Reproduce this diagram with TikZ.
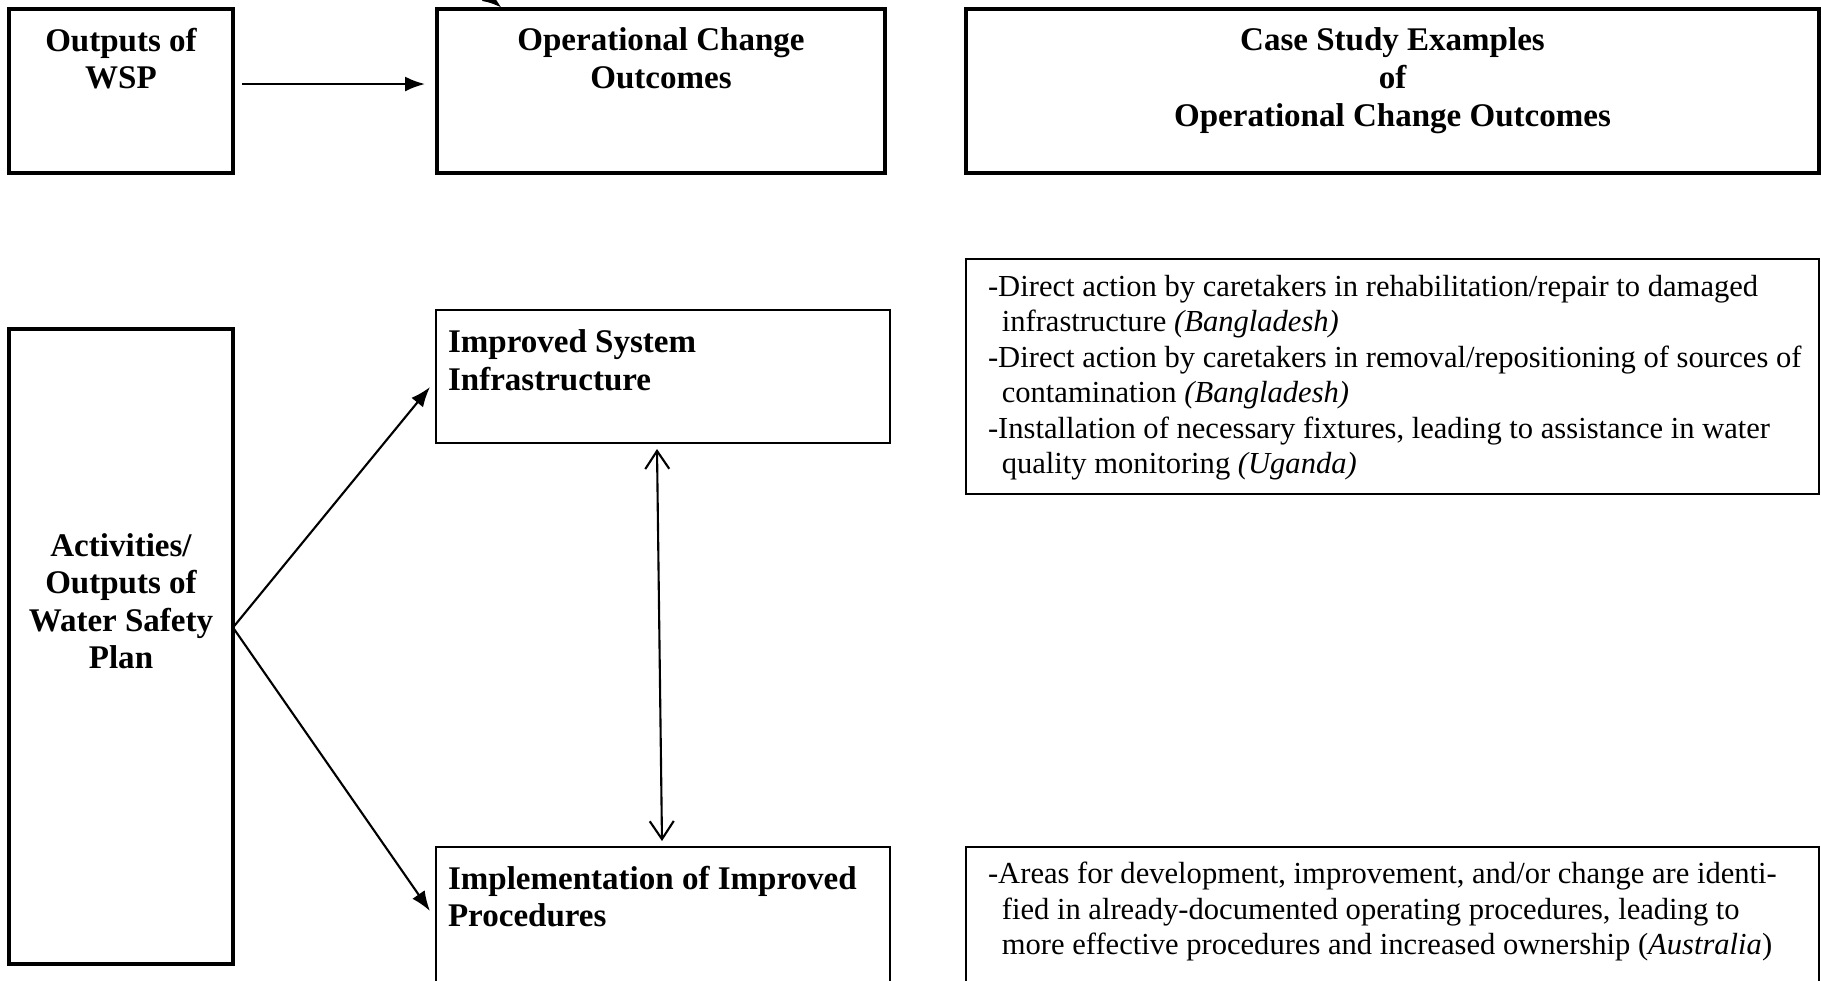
\documentclass[tikz,border=0pt]{standalone}
\usepackage{fontspec}
\setmainfont{Liberation Serif}
\usetikzlibrary{arrows.meta,positioning}

\begin{document}
\begin{tikzpicture}[->,>={Latex[length=0.2cm,width=0.15cm]},line width=0.6pt,
	  box/.style={draw,inner sep=0pt,outer sep=0pt},
	  heavy box/.style={box,line width=1.1pt},
	  both ways/.style={<->,>={Straight Barb[length=0.18cm,width=0.24cm]}},
	  head/.style={inner sep=0pt,align=center,font=\fontsize{9.4}{10.7}\selectfont\bfseries},
	  note/.style={inner sep=0pt,align=left,font=\fontsize{8.7}{10.1}\selectfont}]

		\useasboundingbox (0,0) rectangle (18.21,-9.80);

		\node[heavy box,minimum width=2.24cm,minimum height=1.64cm] (wsp) at (1.21,-0.91) {};
		\node[heavy box,minimum width=4.48cm,minimum height=1.64cm] (oco) at (6.61,-0.91) {};
		\node[heavy box,minimum width=8.53cm,minimum height=1.64cm] (cse) at (13.925,-0.91) {};
		\node[heavy box,minimum width=2.24cm,minimum height=6.35cm] (act) at (1.21,-6.465) {};
		\node[box,minimum width=4.54cm,minimum height=1.33cm] (isi) at (6.63,-3.765) {};
		\node[box,minimum width=4.54cm,minimum height=1.73cm] (iip) at (6.63,-9.335) {};
		\node[box,minimum width=8.53cm,minimum height=2.35cm] (ex1) at (13.925,-3.765) {};
		\node[box,minimum width=8.53cm,minimum height=1.73cm] (ex2) at (13.925,-9.335) {};

		\node[head,below=0.18cm of wsp.north] (wsp text) {Outputs of\\WSP};
		\node[head,below=0.18cm of oco.north] (oco text) {Operational Change\\Outcomes};
		\node[head,below=0.18cm of cse.north] (cse text) {Case Study Examples\\of\\Operational Change Outcomes};
		\node[head,below=2.03cm of act.north] (act text) {Activities/\\Outputs of\\Water Safety\\Plan};
		\node[head,align=left,below right=0.19cm and 0.11cm of isi.north west] (isi text) {Improved System\\Infrastructure};
		\node[head,align=left,below right=0.18cm and 0.11cm of iip.north west] (iip text) {Implementation of Improved\\Procedures};
		\node[note,below right=0.15cm and 0.21cm of ex1.north west] (ex1 text) {-Direct action by caretakers in rehabilitation/repair to damaged\\
			\hspace*{0.45em}infrastructure \textit{(Bangladesh)}\\
			-Direct action by caretakers in removal/repositioning of sources of\\
			\hspace*{0.45em}contamination \textit{(Bangladesh)}\\
			-Installation of necessary fixtures, leading to assistance in water\\
			\hspace*{0.45em}quality monitoring \textit{(Uganda)}};
		\node[note,below right=0.14cm and 0.21cm of ex2.north west] (ex2 text) {-Areas for development, improvement, and/or change are identi-\\
			\hspace*{0.45em}fied in already-documented operating procedures, leading to\\
			\hspace*{0.45em}more effective procedures and increased ownership (\textit{Australia})};

		\coordinate (off) at (4.50,0.35);

	\path
		([xshift=0.09cm,yshift=0.07cm]wsp.east) edge ([xshift=-0.12cm,yshift=0.07cm]oco.west)
		([yshift=0.19cm]act.east) edge ([xshift=-0.06cm,yshift=-0.105cm]isi.west)
		([yshift=0.19cm]act.east) edge ([xshift=-0.06cm,yshift=-0.64cm]iip.north west)
		([xshift=-0.06cm,yshift=-0.06cm]isi.south) edge[both ways] ([xshift=-0.01cm,yshift=0.06cm]iip.north)
		(off) edge[line width=1.6pt] ([xshift=-1.59cm,yshift=0.01cm]oco.north);

	\end{tikzpicture}
\end{document}
